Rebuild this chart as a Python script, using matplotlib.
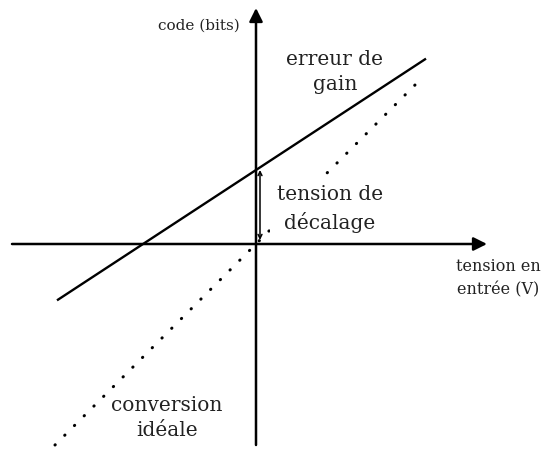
import matplotlib
matplotlib.use("Agg")
import matplotlib.pyplot as plt
import numpy as np

# schematic ADC transfer curve (arbitrary units, origin at axes crossing)
x_ideal = [-201, 164]
y_ideal = [-201, 164]
x_gain = [-199, 170]
offset = 74
gain_slope = 0.655
y_gain = [offset + gain_slope * x for x in x_gain]

x_axis_span = [-244, 231]
y_axis_span = [-201, 236]

plt.rcParams['font.family'] = ['DejaVu Serif']

fig = plt.figure(figsize=(5.42, 4.5), dpi=100)
ax = fig.add_axes([0, 0, 1, 1])
ax.set_xlim(-256, 286)
ax.set_ylim(-206, 244)
ax.axis('off')

# axes with arrows
ax.annotate('', xy=(x_axis_span[1], 0), xytext=(x_axis_span[0], 0),
            arrowprops=dict(arrowstyle='-|>', lw=1.8, color='black', mutation_scale=20,
                            shrinkA=0, shrinkB=0))
ax.annotate('', xy=(0, y_axis_span[1]), xytext=(0, y_axis_span[0]),
            arrowprops=dict(arrowstyle='-|>', lw=1.8, color='black', mutation_scale=20,
                            shrinkA=0, shrinkB=0))

# lines
ax.plot(x_gain, y_gain, color='black', lw=1.7, solid_capstyle='butt', zorder=3)
ax.plot(x_ideal, y_ideal, color='black', lw=2.2, linestyle=(0, (0.1, 4.4)),
        dash_capstyle='round', zorder=2)

# offset arrow
ax.annotate('', xy=(4, offset), xytext=(4, 4),
            arrowprops=dict(arrowstyle='<->', lw=1.1, color='black', mutation_scale=7,
                            shrinkA=0, shrinkB=0), zorder=5)

# labels
txt = '#222222'
ax.text(-16, 218, 'code (bits)', ha='right', va='center', fontsize=11, color=txt)
ax.text(242, -34, 'tension en\nentrée (V)', ha='center', va='center', fontsize=11.5,
        color=txt, linespacing=1.45)
ax.text(79, 172, 'erreur de\ngain', ha='center', va='center', fontsize=14.5,
        color=txt, linespacing=1.45)
ax.text(74, 35, 'tension de\ndécalage', ha='center', va='center', fontsize=14.5,
        color=txt, linespacing=1.45, zorder=4,
        bbox=dict(facecolor='white', edgecolor='none', pad=5))
ax.text(-89, -174, 'conversion\nidéale', ha='center', va='center', fontsize=14.5,
        color=txt, linespacing=1.45, zorder=4,
        bbox=dict(facecolor='white', edgecolor='none', pad=1))

fig.savefig('out.png', dpi=100, facecolor='white')
